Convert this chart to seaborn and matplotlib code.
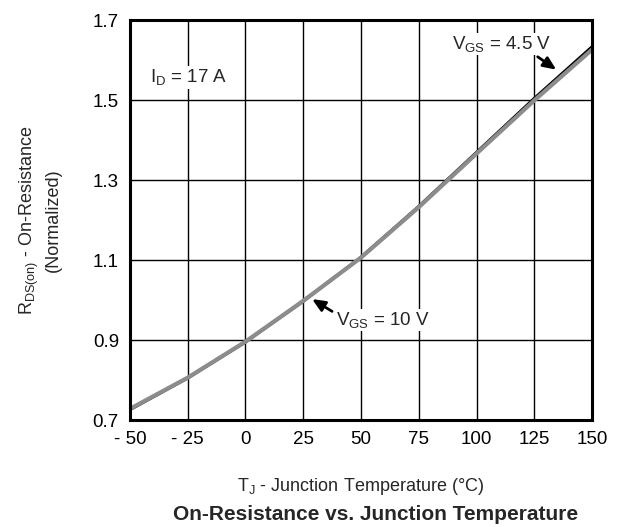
import matplotlib
matplotlib.use("Agg")
import matplotlib.pyplot as plt
import seaborn as sns
import pandas as pd

# Junction temperature (deg C) and normalized on-resistance
temps = [-50, -25, 0, 25, 50, 75, 100, 125, 150]
rds_vgs_45 = [0.726, 0.805, 0.895, 0.997, 1.107, 1.234, 1.369, 1.504, 1.633]
rds_vgs_10 = [0.728, 0.806, 0.896, 0.998, 1.106, 1.232, 1.366, 1.499, 1.626]

x_ticks = [-50, -25, 0, 25, 50, 75, 100, 125, 150]
x_tick_labels = ["- 50", "- 25", "0", "25", "50", "75", "100", "125", "150"]
y_ticks = [0.7, 0.9, 1.1, 1.3, 1.5, 1.7]

df = pd.DataFrame({
    "T": temps * 2,
    "R": rds_vgs_45 + rds_vgs_10,
    "VGS": ["4.5 V"] * len(temps) + ["10 V"] * len(temps),
})

sns.set_theme(style="white", context="paper")
plt.rcParams["font.family"] = ["Liberation Sans", "DejaVu Sans"]
plt.rcParams["mathtext.fontset"] = "custom"
plt.rcParams["mathtext.rm"] = "Liberation Sans"
plt.rcParams["mathtext.it"] = "Liberation Sans"

fig = plt.figure(figsize=(6.19, 5.27), dpi=100)
ax = fig.add_axes([0.21, 0.203, 0.7464, 0.759])

sns.lineplot(data=df[df.VGS == "4.5 V"], x="T", y="R", color="black",
             linewidth=2.2, ax=ax, zorder=3)
sns.lineplot(data=df[df.VGS == "10 V"], x="T", y="R", color="#8c8c8c",
             linewidth=3.0, ax=ax, zorder=4)

ax.set_xlim(-50, 150)
ax.set_ylim(0.7, 1.7)
ax.set_xticks(x_ticks)
ax.set_xticklabels(x_tick_labels)
ax.set_yticks(y_ticks)
ax.set_yticklabels([f"{v:.1f}" for v in y_ticks])
ax.tick_params(axis="both", labelsize=13.5, length=0, colors="black")
ax.tick_params(axis="x", pad=8)
ax.tick_params(axis="y", pad=8)
ax.grid(True, color="black", linewidth=1.0)
for s in ax.spines.values():
    s.set_linewidth(2.2)
    s.set_color("black")
    s.set_zorder(5)

ax.set_xlabel(r"T$_{\rm J}$ - Junction Temperature (°C)", fontsize=13, labelpad=20)
ax.set_ylabel("R$_{\\rm DS(on)}$ - On-Resistance\n(Normalized)", fontsize=13,
              labelpad=22, linespacing=1.3)

fig.text(0.606, 0.024, "On-Resistance vs. Junction Temperature", ha="center",
         va="center", fontsize=15, fontweight="bold")

ax.text(-41.5, 1.557, r"I$_{\rm D}$ = 17 A", fontsize=13.5, va="center",
        ha="left", zorder=6, bbox=dict(facecolor="white", edgecolor="none", pad=1))

arrow_style = dict(arrowstyle="-|>,head_length=0.8,head_width=0.35",
                   color="black", lw=2.0)
ax.annotate("", xy=(135.5, 1.572), xytext=(125.5, 1.612),
            arrowprops=arrow_style, zorder=6)
ax.text(111, 1.64, r"V$_{\rm GS}$ = 4.5 V", fontsize=13.5, va="center", ha="center",
        zorder=6, bbox=dict(facecolor="white", edgecolor="none", pad=1))

ax.annotate("", xy=(27.8, 1.006), xytext=(38.5, 0.968),
            arrowprops=arrow_style, zorder=6)
ax.text(39.3, 0.95, r"V$_{\rm GS}$ = 10 V", fontsize=13.5, va="center", ha="left",
        zorder=6, bbox=dict(facecolor="white", edgecolor="none", pad=1))

fig.savefig("out.png", dpi=100, facecolor="white")
